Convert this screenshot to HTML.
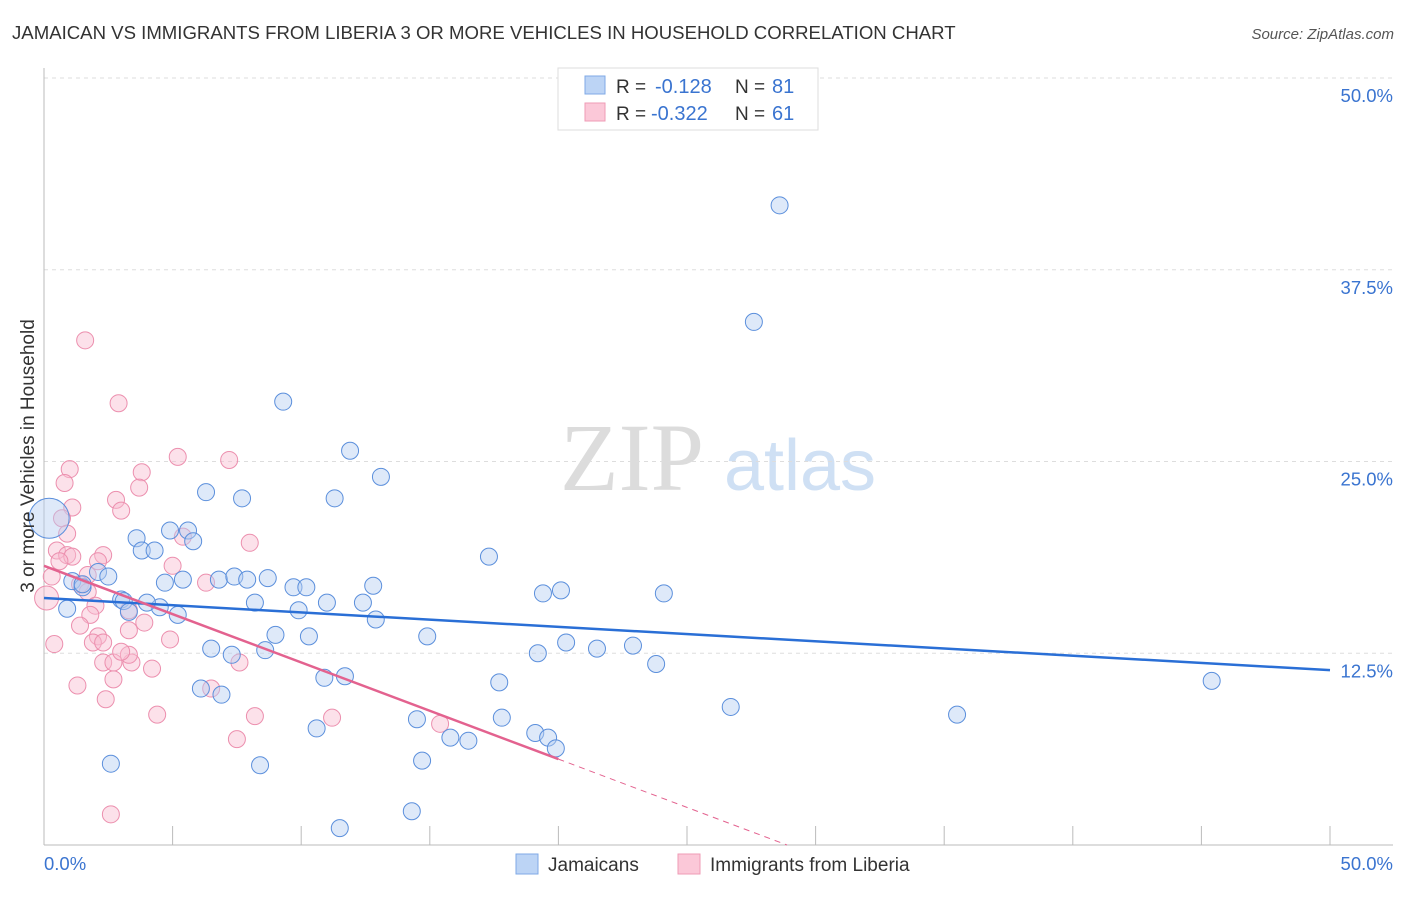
<!DOCTYPE html>
<html><head><meta charset="utf-8"><style>
body{margin:0;background:#fff;font-family:"Liberation Sans",sans-serif}
</style></head><body>
<svg id="chart" width="1406" height="892" xmlns="http://www.w3.org/2000/svg" font-family="Liberation Sans, sans-serif">
<text x="12" y="39" font-size="18.6" fill="#333">JAMAICAN VS IMMIGRANTS FROM LIBERIA 3 OR MORE VEHICLES IN HOUSEHOLD CORRELATION CHART</text>
<text x="1394" y="39" font-size="15" fill="#555" text-anchor="end" font-style="italic">Source: ZipAtlas.com</text>
<g>
<text x="632" y="490" font-size="96" fill="#dcdcdc" text-anchor="middle" font-family="Liberation Serif, serif">ZIP</text>
<text x="800" y="490" font-size="72" fill="#cfe0f4" text-anchor="middle">atlas</text>
</g>
<g id="grid"></g>
<g id="axes"></g>
<g id="marks"></g>
<g>
<rect x="558" y="68" width="260" height="62" fill="#fff" stroke="#ddd"/>
<rect x="585" y="76" width="20" height="18" fill="#bcd4f5" stroke="#7fa9e6"/>
<rect x="585" y="103" width="20" height="18" fill="#fbc8d8" stroke="#ef9bb6"/>
<text x="616" y="93" font-size="19" fill="#333">R =</text>
<text x="655" y="93" font-size="20" fill="#3a74d0">-0.128</text>
<text x="735" y="93" font-size="19" fill="#333">N =</text>
<text x="772" y="93" font-size="20" fill="#3a74d0">81</text>
<text x="616" y="120" font-size="19" fill="#333">R =</text>
<text x="651" y="120" font-size="20" fill="#3a74d0">-0.322</text>
<text x="735" y="120" font-size="19" fill="#333">N =</text>
<text x="772" y="120" font-size="20" fill="#3a74d0">61</text>
</g>
<g>
<rect x="516" y="854" width="22" height="20" fill="#bcd4f5" stroke="#7fa9e6"/>
<text x="548" y="871" font-size="19" fill="#333">Jamaicans</text>
<rect x="678" y="854" width="22" height="20" fill="#fbc8d8" stroke="#ef9bb6"/>
<text x="710" y="871" font-size="19" fill="#333">Immigrants from Liberia</text>
</g>
<text transform="translate(34,456) rotate(-90)" font-size="19" fill="#333" text-anchor="middle">3 or more Vehicles in Household</text>
</svg>
<script>
const yTicks=[12.5,25,37.5,50];
const yTickLabels=["12.5%","25.0%","37.5%","50.0%"];
const jamX=[28.6,27.6,9.3,11.9,13.1,6.3,7.7,11.3,17.3,3.6,4.9,5.6,5.8,3.8,4.3,2.1,2.5,4.7,5.4,6.8,7.4,7.9,8.7,9.7,10.2,12.8,1.1,1.5,3.0,3.1,4.5,4.0,5.2,8.2,9.9,11.0,12.4,12.9,19.4,20.1,24.1,0.9,3.3,9.0,10.3,14.9,20.3,21.5,22.9,19.2,6.5,7.3,8.6,23.8,45.4,10.9,11.7,17.7,6.1,6.9,26.7,35.5,14.5,17.8,10.6,19.1,15.8,16.5,19.6,19.9,2.6,8.4,14.7,14.3,11.5,1.5];
const jamY=[41.7,34.1,28.9,25.7,24.0,23.0,22.6,22.6,18.8,20.0,20.5,20.5,19.8,19.2,19.2,17.8,17.5,17.1,17.3,17.3,17.5,17.3,17.4,16.8,16.8,16.9,17.2,16.8,16.0,15.9,15.5,15.8,15.0,15.8,15.3,15.8,15.8,14.7,16.4,16.6,16.4,15.4,15.2,13.7,13.6,13.6,13.2,12.8,13.0,12.5,12.8,12.4,12.7,11.8,10.7,10.9,11.0,10.6,10.2,9.8,9.0,8.5,8.2,8.3,7.6,7.3,7.0,6.8,7.0,6.3,5.3,5.2,5.5,2.2,1.1,17.0];
const libX=[1.6,2.9,5.2,7.2,1.0,3.8,0.8,3.7,2.8,3.0,1.1,0.7,0.9,8.0,5.4,0.5,0.9,1.1,2.3,2.1,0.6,5.0,0.3,1.7,1.4,1.7,2.0,1.8,1.4,2.1,3.9,3.3,3.3,0.4,1.9,2.3,4.9,6.3,2.3,2.7,3.4,3.3,3.0,4.2,7.6,1.3,2.7,6.5,2.4,4.4,8.2,11.2,15.4,7.5,2.6];
const libY=[32.9,28.8,25.3,25.1,24.5,24.3,23.6,23.3,22.5,21.8,22.0,21.3,20.3,19.7,20.1,19.2,18.9,18.8,18.9,18.5,18.5,18.2,17.5,17.6,17.0,16.5,15.6,15.0,14.3,13.6,14.5,14.0,15.3,13.1,13.2,13.2,13.4,17.1,11.9,11.9,11.9,12.4,12.6,11.5,11.9,10.4,10.8,10.2,9.5,8.5,8.4,8.3,7.9,6.9,2.0];
const jamBig=[0.2,21.3];
const libBig=[0.1,16.1];
const jamTrend=[16.1,11.4];
const libTrend=[18.2,5.6,20];
const NS="http://www.w3.org/2000/svg";
const X=v=>44+v*25.72, Y=v=>845-v*15.34;
function mk(tag,parent,attrs){const e=document.createElementNS(NS,tag);for(const k in attrs)e.setAttribute(k,attrs[k]);parent.appendChild(e);return e;}
const grid=document.getElementById('grid'),axes=document.getElementById('axes'),marks=document.getElementById('marks');
yTicks.forEach((t,i)=>{
 const l=mk('line',grid,{x1:44,x2:1393,y1:Y(t),y2:Y(t),stroke:'#ddd','stroke-dasharray':'4,4'});
 
 
 const tx=mk('text',axes,{x:1393,y:Y(t)+24,'font-size':18.5,fill:'#3a74d0','text-anchor':'end'});
 tx.textContent=yTickLabels[i];
 
 
});
const ax=mk('line',axes,{x1:44,x2:44,y1:68,y2:845,stroke:'#bbb'});


const bx=mk('line',axes,{x1:44,x2:1393,y1:845,y2:845,stroke:'#bbb'});


for(let i=0;i<=10;i++){const t=mk('line',axes,{x1:X(i*5),x2:X(i*5),y1:826,y2:845,stroke:'#bbb'});
 
 }
[[0,'0.0%','start',44],[50,'50.0%','end',1393]].forEach(a=>{const t=mk('text',axes,{x:a[3],y:870,'font-size':18.5,fill:'#3a74d0','text-anchor':a[2]});t.textContent=a[1];
 
 });
function dot(x,y,r,c,s,name){const e=mk('circle',marks,{cx:X(x),cy:Y(y),r:r,fill:c,'fill-opacity':0.45,stroke:s,'stroke-width':1});
 
 }
libX.forEach((x,i)=>dot(x,libY[i],8.5,'#f8bcd0','#ec8fae','liberia-point'));
dot(libBig[0],libBig[1],12,'#f8bcd0','#ec8fae','liberia-point');
jamX.forEach((x,i)=>dot(x,jamY[i],8.5,'#b5cff2','#5b8fdc','jamaican-point'));
dot(jamBig[0],jamBig[1],20,'#b5cff2','#5b8fdc','jamaican-point');
const jt=mk('line',marks,{x1:X(0),y1:Y(jamTrend[0]),x2:X(50),y2:Y(jamTrend[1]),stroke:'#2a6fd6','stroke-width':2.5});


const slope=(libTrend[1]-libTrend[0])/libTrend[2];
const lt=mk('line',marks,{x1:X(0),y1:Y(libTrend[0]),x2:X(libTrend[2]),y2:Y(libTrend[1]),stroke:'#e3628f','stroke-width':2.5});


const zx=-libTrend[0]/slope;
const ld=mk('line',marks,{x1:X(libTrend[2]),y1:Y(libTrend[1]),x2:X(zx),y2:Y(0),stroke:'#e3628f','stroke-width':1,'stroke-dasharray':'6,5'});


</script>
</body></html>
